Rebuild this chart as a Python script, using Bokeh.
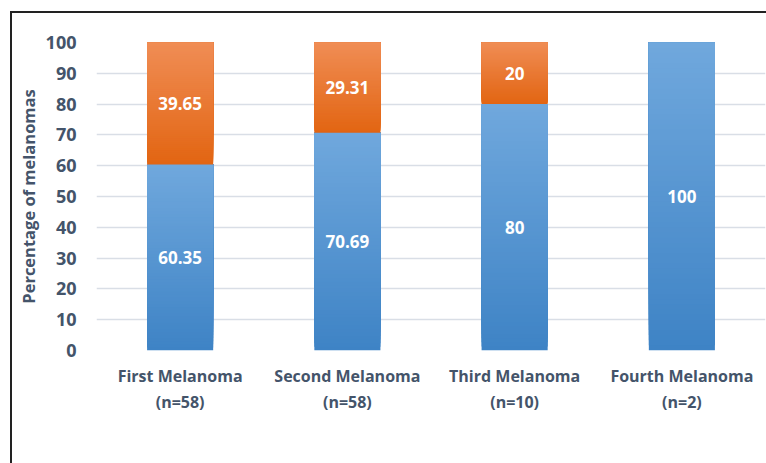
from bokeh.plotting import figure
from bokeh.models import (FactorRange, Range1d, Legend, LegendItem, ColumnDataSource,
                          SingleIntervalTicker, InlineStyleSheet)
from bokeh.embed import file_html
from bokeh.resources import INLINE
from bokeh.core.properties import value

categories = ["First Melanoma\n(n=58)", "Second Melanoma\n(n=58)",
              "Third Melanoma\n(n=10)", "Fourth Melanoma\n(n=2)"]
yes_values = [60.35, 70.69, 80, 100]
no_values = [39.65, 29.31, 20, 0]
yes_labels = ["60.35", "70.69", "80", "100"]
no_labels = ["39.65", "29.31", "20", ""]

FONT = "Open Sans"
TEXT = "#44546A"

BLUE_BOT, BLUE_TOP = (0x3E, 0x83, 0xC5), (0x70, 0xA8, 0xDD)
ORANGE_BOT, ORANGE_TOP = (0xE2, 0x65, 0x12), (0xF0, 0x8D, 0x55)
N = 60


def lerp(c0, c1, t):
    return "#%02x%02x%02x" % tuple(int(round(a + (b - a) * t)) for a, b in zip(c0, c1))


def strips(bases, heights, c_bot, c_top):
    # overlapping layers: each one runs from its start up to the segment top
    d = dict(x=[], b=[], t=[], c=[])
    for cat, base, h in zip(categories, bases, heights):
        if h <= 0:
            continue
        for i in range(N):
            d["x"].append(cat)
            d["b"].append(base + h * i / N)
            d["t"].append(base + h)
            d["c"].append(lerp(c_bot, c_top, (i + 0.5) / N))
    return ColumnDataSource(d)


sheet = InlineStyleSheet(css=""":host::after { content: ""; position: absolute; left: 10px; top: 11px;
  right: -20px; bottom: -20px; border-left: 2px solid #222; border-top: 2px solid #222;
  pointer-events: none; }""")

p = figure(x_range=FactorRange(*categories, range_padding=0), y_range=Range1d(0, 100),
           frame_width=669, frame_height=308, output_backend="svg", toolbar_location=None,
           min_border_left=96, min_border_right=1, min_border_top=42, min_border_bottom=0,
           stylesheets=[sheet])
p.outline_line_color = None
p.background_fill_color = "white"
p.border_fill_color = "white"

src_yes = strips([0] * 4, yes_values, BLUE_BOT, BLUE_TOP)
src_no = strips(yes_values, no_values, ORANGE_BOT, ORANGE_TOP)
r_yes = p.vbar(x="x", bottom="b", top="t", width=0.395, source=src_yes,
               fill_color="c", line_color=None)
r_no = p.vbar(x="x", bottom="b", top="t", width=0.395, source=src_no,
              fill_color="c", line_color=None)

# data labels
lab_yes = ColumnDataSource(dict(x=categories, y=[v / 2 for v in yes_values], t=yes_labels))
lab_no = ColumnDataSource(dict(x=categories, y=[a + b / 2 for a, b in zip(yes_values, no_values)],
                               t=no_labels))
for s in (lab_yes, lab_no):
    p.text(x="x", y="y", text="t", source=s, text_color="white", text_font=value(FONT),
           text_font_style="bold", text_font_size="17px", text_align="center",
           text_baseline="middle")

# axes
p.yaxis.ticker = SingleIntervalTicker(interval=10)
p.yaxis.axis_line_color = None
p.yaxis.major_tick_line_color = None
p.yaxis.minor_tick_line_color = None
p.yaxis.major_label_text_font = FONT
p.yaxis.major_label_text_font_style = "bold"
p.yaxis.major_label_text_font_size = "18px"
p.yaxis.major_label_text_color = TEXT
p.yaxis.major_label_standoff = 14
p.yaxis.axis_label = "Percentage of melanomas"
p.yaxis.axis_label_text_font = FONT
p.yaxis.axis_label_text_font_style = "bold"
p.yaxis.axis_label_text_font_size = "16.5px"
p.yaxis.axis_label_text_color = TEXT
p.yaxis.axis_label_standoff = 3

p.xaxis.axis_line_color = None
p.xaxis.major_tick_line_color = None
p.xaxis.minor_tick_line_color = None
p.xaxis.major_label_text_font = FONT
p.xaxis.major_label_text_font_style = "bold"
p.xaxis.major_label_text_font_size = "16px"
p.xaxis.major_label_text_color = TEXT
p.xaxis.major_label_standoff = 8

p.xgrid.grid_line_color = None
p.ygrid.grid_line_color = "#D9DEE6"
p.ygrid.grid_line_width = 1.5

legend = Legend(items=[LegendItem(label="Yes", renderers=[r_yes], index=N // 2),
                       LegendItem(label="No", renderers=[r_no], index=N // 2)],
                title="Histological regression", title_text_font=FONT,
                title_text_font_style="bold", title_text_font_size="16.5px",
                title_text_color=TEXT, title_standoff=2,
                orientation="horizontal", location=(242, 0), border_line_color=None,
                background_fill_alpha=0, label_text_font=FONT, label_text_font_style="bold",
                label_text_font_size="16px", label_text_color=TEXT,
                glyph_width=10, glyph_height=10, spacing=15, padding=0, margin=0,
                label_standoff=15, label_height=16)
p.add_layout(legend, "below")

open("out.html", "w").write(file_html(p, INLINE))
